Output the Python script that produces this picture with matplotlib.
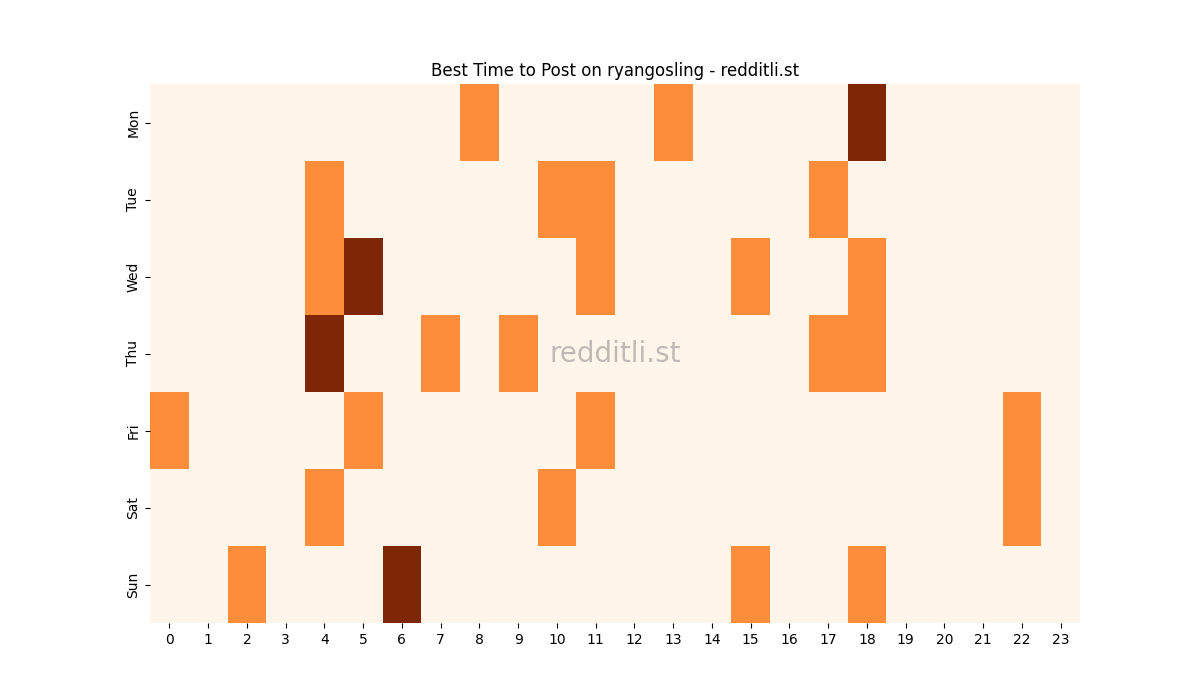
import matplotlib
matplotlib.use("Agg")
import matplotlib.pyplot as plt
import seaborn as sns
import numpy as np

days = ["Mon", "Tue", "Wed", "Thu", "Fri", "Sat", "Sun"]
hours = list(range(24))
mon = {8: 1, 13: 1, 18: 2}
tue = {4: 1, 10: 1, 11: 1, 17: 1}
wed = {4: 1, 5: 2, 11: 1, 15: 1, 18: 1}
thu = {4: 2, 7: 1, 9: 1, 17: 1, 18: 1}
fri = {0: 1, 5: 1, 11: 1, 22: 1}
sat = {4: 1, 10: 1, 22: 1}
sun = {2: 1, 6: 2, 15: 1, 18: 1}
rows = [mon, tue, wed, thu, fri, sat, sun]

data = np.array([[r.get(h, 0) for h in hours] for r in rows], dtype=float)

fig, ax = plt.subplots(figsize=(12, 7), dpi=100)
sns.heatmap(data, cmap="Oranges", cbar=False, ax=ax,
            xticklabels=hours, yticklabels=days)
ax.set_title("Best Time to Post on ryangosling - redditli.st")
ax.tick_params(axis="y", rotation=90)
ax.tick_params(axis="x", rotation=0)
ax.text(0.5, 0.5, "redditli.st", transform=ax.transAxes, ha="center", va="center",
        fontsize=20, color="gray", alpha=0.5)
fig.savefig("out.png")
